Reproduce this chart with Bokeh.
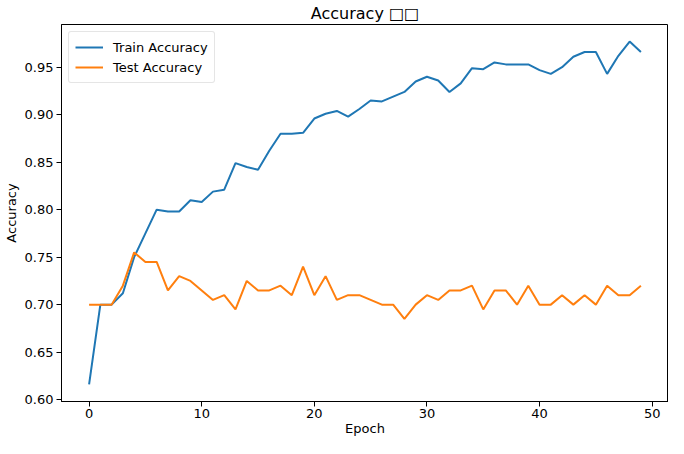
from bokeh.plotting import figure
from bokeh.models import Range1d, FixedTicker, Legend, LegendItem, NumeralTickFormatter
from bokeh.embed import file_html
from bokeh.resources import INLINE

epochs = list(range(50))
train_acc = [0.616, 0.700, 0.700, 0.712, 0.750, 0.775, 0.800, 0.798, 0.798, 0.810,
             0.808, 0.819, 0.821, 0.849, 0.845, 0.842, 0.862, 0.880, 0.880, 0.881,
             0.896, 0.901, 0.904, 0.898, 0.906, 0.915, 0.914, 0.919, 0.924, 0.935,
             0.940, 0.936, 0.924, 0.933, 0.949, 0.948, 0.955, 0.953, 0.953, 0.953,
             0.947, 0.943, 0.950, 0.961, 0.966, 0.966, 0.943, 0.962, 0.977, 0.966]
test_acc = [0.700, 0.700, 0.700, 0.720, 0.755, 0.745, 0.745, 0.715, 0.730, 0.725,
            0.715, 0.705, 0.710, 0.695, 0.725, 0.715, 0.715, 0.720, 0.710, 0.740,
            0.710, 0.730, 0.705, 0.710, 0.710, 0.705, 0.700, 0.700, 0.685, 0.700,
            0.710, 0.705, 0.715, 0.715, 0.720, 0.695, 0.715, 0.715, 0.700, 0.720,
            0.700, 0.700, 0.710, 0.700, 0.710, 0.700, 0.720, 0.710, 0.710, 0.720]
x_ticks = [0, 10, 20, 30, 40, 50]
y_ticks = [0.60, 0.65, 0.70, 0.75, 0.80, 0.85, 0.90, 0.95]
title_text = "Accuracy \u25a1\u25a1"
x_label = "Epoch"
y_label = "Accuracy"
series_names = ["Train Accuracy", "Test Accuracy"]

FONT = "DejaVu Sans"

p = figure(width=668, height=438, output_backend="svg", toolbar_location=None,
           title=title_text,
           x_range=Range1d(-2.45, 51.45), y_range=Range1d(0.598, 0.995),
           min_border_left=59, min_border_right=0, min_border_top=22, min_border_bottom=20)

p.title.align = "center"
p.title.text_font = FONT
p.title.text_font_size = "16px"
p.title.text_font_style = "normal"
p.title.text_color = "#000000"
p.title.standoff = 3

p.outline_line_color = "#000000"
p.outline_line_width = 1
p.outline_line_alpha = 1
p.xgrid.visible = False
p.ygrid.visible = False
p.background_fill_color = "white"
p.border_fill_color = "white"

for ax in (p.xaxis[0], p.yaxis[0]):
    ax.axis_line_color = "#000000"
    ax.major_tick_line_color = "#000000"
    ax.major_tick_out = 5
    ax.major_tick_in = 0
    ax.minor_tick_line_color = None
    ax.major_label_text_font = FONT
    ax.major_label_text_font_size = "13px"
    ax.major_label_text_color = "#000000"
    ax.axis_label_text_font = FONT
    ax.axis_label_text_font_size = "13px"
    ax.axis_label_text_font_style = "normal"
    ax.axis_label_text_color = "#000000"
    ax.major_label_standoff = 3
    ax.axis_label_standoff = 3

p.xaxis[0].major_label_standoff = 2
p.xaxis[0].axis_label_standoff = 0

p.xaxis[0].ticker = FixedTicker(ticks=x_ticks)
p.yaxis[0].ticker = FixedTicker(ticks=y_ticks)
p.yaxis[0].formatter = NumeralTickFormatter(format="0.00")
p.xaxis[0].axis_label = x_label
p.yaxis[0].axis_label = y_label

r1 = p.line(epochs, train_acc, line_color="#1f77b4", line_width=2)
r2 = p.line(epochs, test_acc, line_color="#ff7f0e", line_width=2)

legend = Legend(items=[LegendItem(label=series_names[0], renderers=[r1]),
                       LegendItem(label=series_names[1], renderers=[r2])],
                location="top_left")
legend.margin = 7
legend.padding = 6
legend.spacing = 2
legend.glyph_width = 28
legend.glyph_height = 18
legend.label_text_font = FONT
legend.label_text_font_size = "13px"
legend.label_text_color = "#000000"
legend.label_standoff = 10
legend.border_line_color = "#cccccc"
legend.border_line_width = 1
legend.border_radius = 3
legend.background_fill_alpha = 0.8
p.add_layout(legend)

open("out.html", "w").write(file_html(p, INLINE))
